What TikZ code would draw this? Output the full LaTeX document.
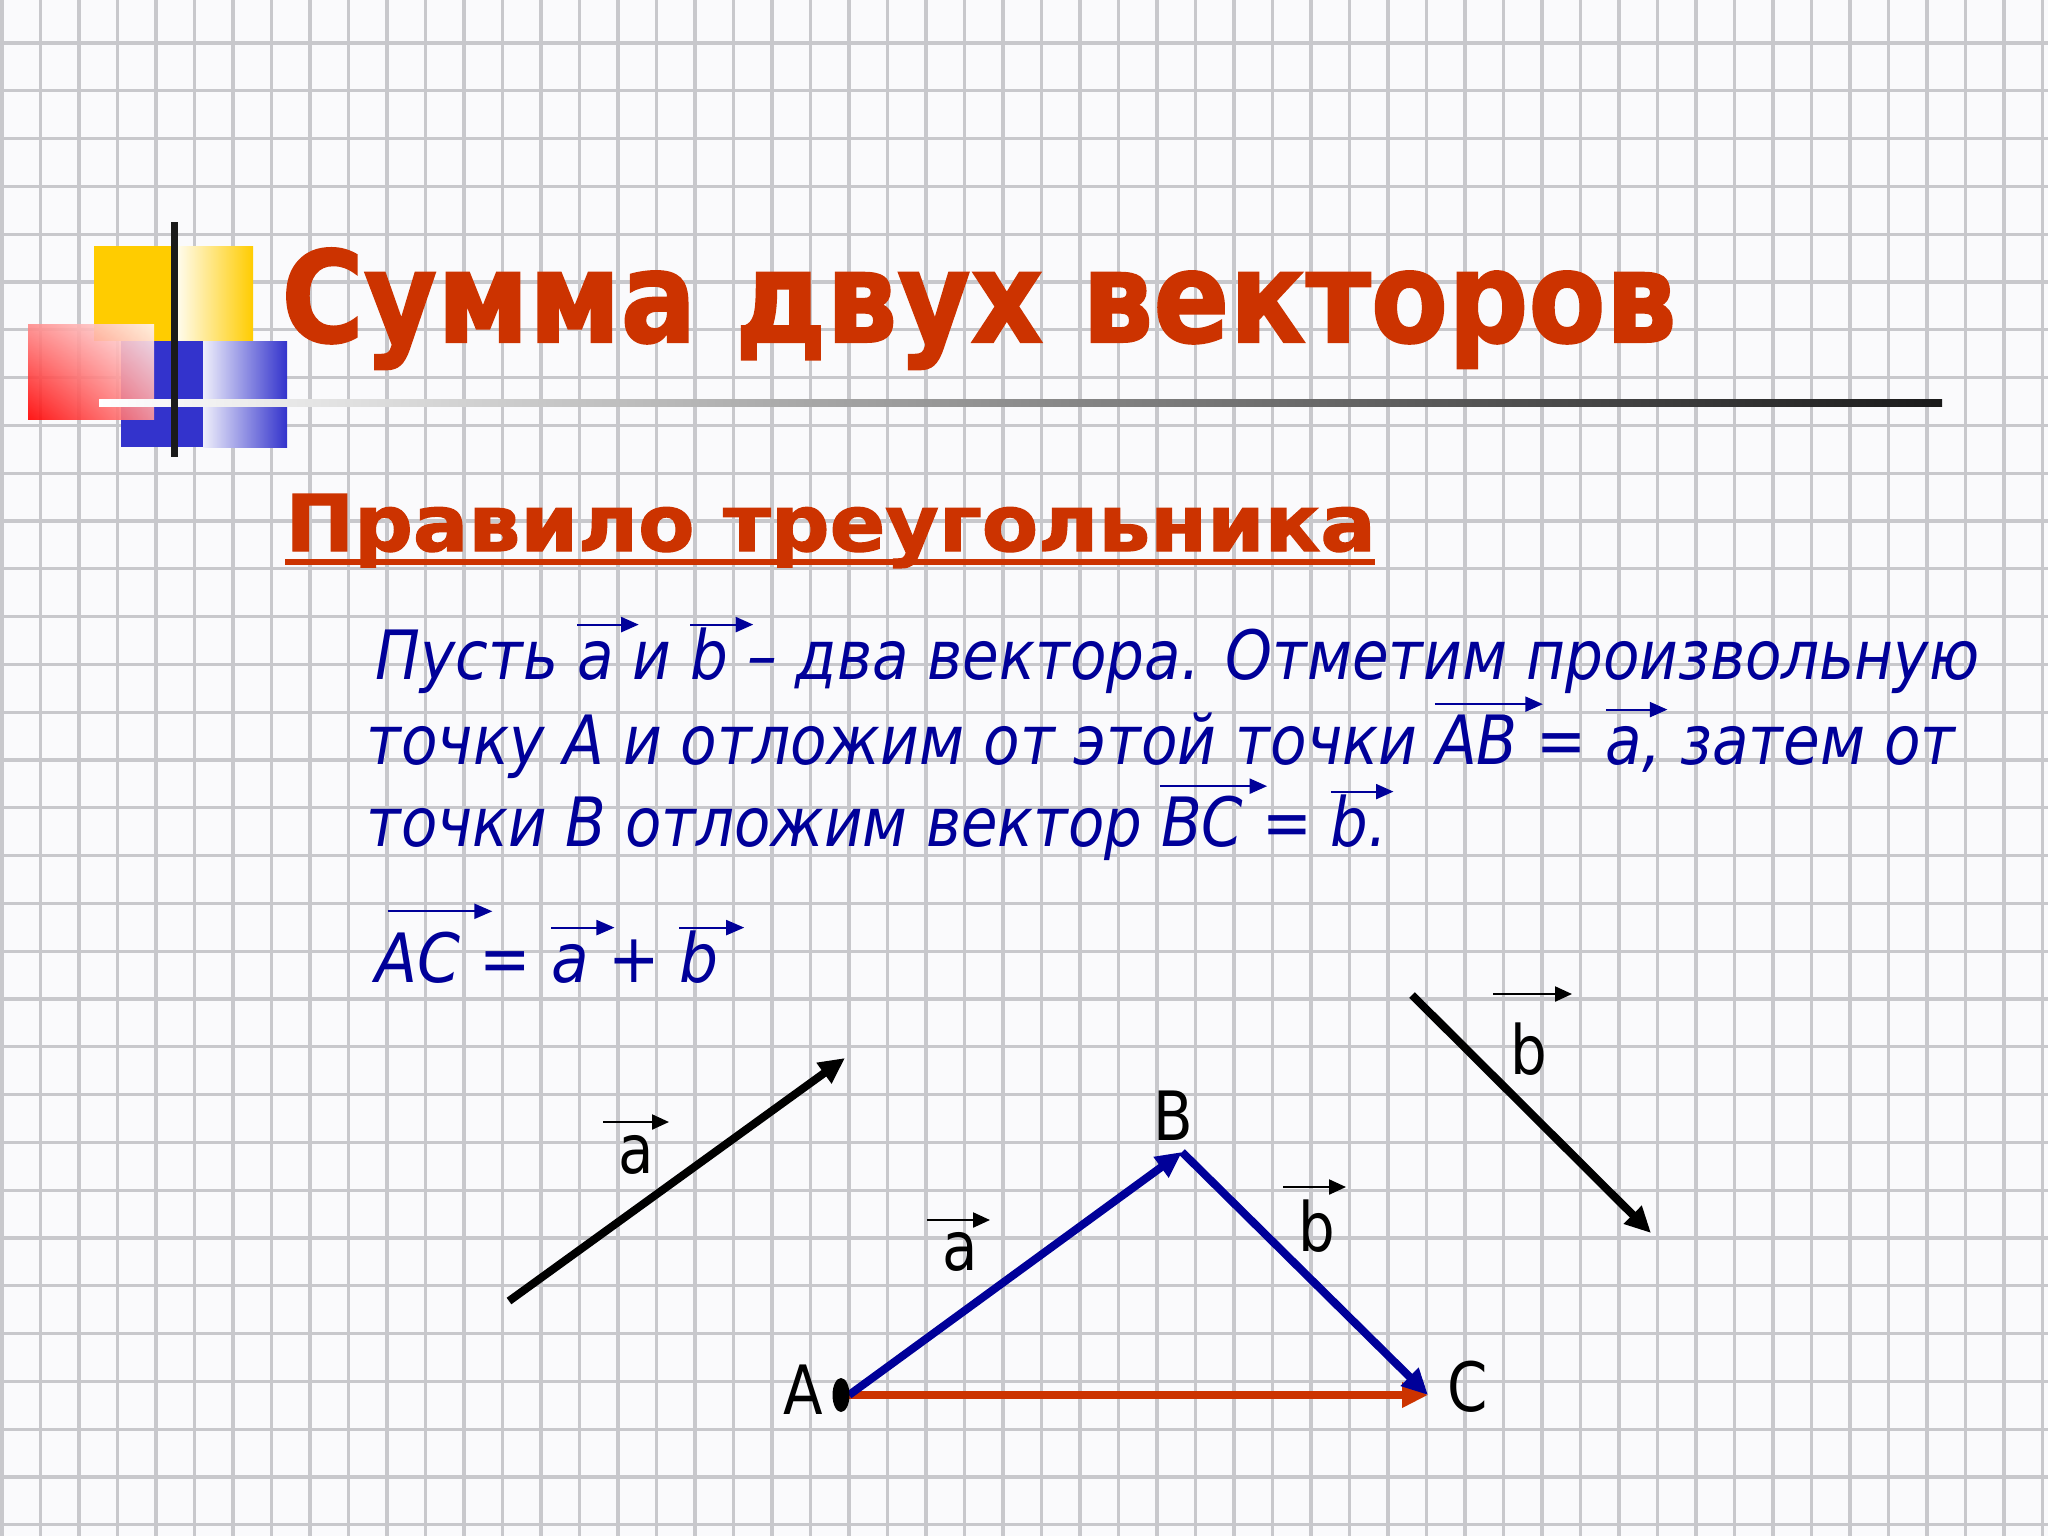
\documentclass[tikz,border=0pt]{standalone}
\usepackage{fontspec}
\usepackage{graphicx}
\usetikzlibrary{arrows.meta,shapes.geometric,shadings}
\newfontfamily\dejavu{DejaVu Sans}
\newfontfamily\titlefont{DejaVu Sans Bold}[FakeBold=1.6]
\definecolor{navy}{RGB}{0,0,153}
\definecolor{titlered}{RGB}{204,51,0}
\definecolor{bgc}{RGB}{250,250,252}
\definecolor{gridc}{RGB}{200,200,204}
\definecolor{yel}{RGB}{255,204,0}
\definecolor{blu}{RGB}{51,51,204}
\definecolor{barc}{RGB}{26,26,26}
\tikzset{
 gridline/.style={draw=gridc, line width=1.6pt},
 vecline/.style={line width=4pt, -{Triangle[length=13pt,width=12pt]}},
 lbl/.style={inner sep=0pt, anchor=base, font=\dejavu\fontsize{34pt}{40pt}\selectfont},
 smallarr/.style={line width=1.1pt, -{Triangle[length=8.5pt,width=7.5pt]}},
 textarr/.style={overlay, navy, line width=1.1pt, -{Triangle[length=10pt,width=7.5pt]}},
 bodyline/.style={inner sep=0pt, anchor=base west, text=navy, font=\dejavu\itshape\fontsize{34pt}{40pt}\selectfont},
 headline/.style={inner sep=0pt, anchor=base west, text=titlered, font=\titlefont},
}
% arrow over lowercase letter
\newcommand\vl[1]{\tikz[baseline=(vt.base)]{\node[inner sep=0pt,outer sep=0pt,anchor=base](vt){#1};\draw[textarr]([xshift=0.0em,yshift=0.8em]vt.base west)--([xshift=0.42em,yshift=0.8em]vt.base east);}}
% arrow over capitals: [height]{start}{end}{text}
\newcommand\vc[4][0.9em]{\tikz[baseline=(vt.base)]{\node[inner sep=0pt,outer sep=0pt,anchor=base](vt){#4};\draw[textarr]([xshift=#2,yshift=#1]vt.base west)--([xshift=#3,yshift=#1]vt.base east);}}
\begin{document}
\begin{tikzpicture}[x=0.5pt,y=-0.5pt]
\useasboundingbox (0,0) rectangle (2048,1536);
\fill[bgc] (0,0) rectangle (2048,1536);
\foreach \i in {0,...,53} \draw[gridline] ({2+38.5*\i},0) -- ({2+38.5*\i},1536);
\foreach \j in {0,...,32} \draw[gridline] (0,{43+47.8*\j}) -- (2048,{43+47.8*\j});
% decoration
\fill[yel] (94,246) rectangle (178,341);
\shade[left color=yel!8, right color=yel] (178,246) rectangle (253,341);
\fill[blu] (121,341) rectangle (203,447);
\shade[left color=blu!8, right color=blu] (203,341) rectangle (287,447);
\shade[upper left=red!45, upper right=red!4, lower left=red, lower right=red!40, opacity=0.9] (28,324) rectangle (154,419);
\shade[left color=white, right color=barc] (99,399) rectangle (1942,406);
\fill[barc] (171,222) rectangle (178,457);
% headings
\node[headline] (title) at (281,342) {\resizebox{697.5pt}{47pt}{Сумма двух векторов}};
\node[headline] (sub) at (285,551) {\resizebox{545pt}{28.5pt}{Правило треугольника}};
\fill[titlered] (285,559) rectangle (1375,565);
% body
\node[bodyline] (l1) at (375,679) {\resizebox{802pt}{\height}{Пусть \vl{a} и \vl{b} – два вектора. Отметим произвольную}};
\node[bodyline] (l2) at (366,764) {\resizebox{794.5pt}{\height}{точку А и отложим от этой точки \vc[0.88em]{-0.02em}{0.42em}{AB} = \vl{a}, затем от}};
\node[bodyline] (l3) at (366,846) {\resizebox{510.5pt}{\height}{точки В отложим вектор \vc[0.88em]{-0.02em}{0.4em}{BC} = \vl{b}.}};
\node[bodyline] (l4) at (375,982) {\resizebox{171.5pt}{\height}{\vc[1.04em]{0.2em}{0.52em}{AC} = \vl{a} + \vl{b}}};
% figure
\coordinate (A) at (849,1395);
\coordinate (B) at (1182,1152);
\coordinate (C) at (1428,1395);
\coordinate (fa1) at (509,1301);
\coordinate (fa2) at (845,1058);
\coordinate (fb1) at (1412,995);
\coordinate (fb2) at (1651,1233);
\draw[vecline, titlered] (A) -- (C);
\draw[vecline, navy] (A) -- (B);
\draw[vecline, navy] (B) -- (C);
\draw[vecline, black] (fa1) -- (fa2);
\draw[vecline, black] (fb1) -- (fb2);
\node[ellipse, fill=black, minimum width=8.5pt, minimum height=17pt, inner sep=0pt] (dotA) at (841,1395) {};
\node[lbl] (lA) at (803,1414) {\scalebox{0.85}[1]{A}};
\node[lbl] (lB) at (1173,1140) {\scalebox{0.85}[1]{B}};
\node[lbl] (lC) at (1468,1411) {\scalebox{0.85}[1]{C}};
\node[lbl] (la) at (636,1173) {\scalebox{0.85}[1]{a}};
\node[lbl] (lab) at (960,1270) {\scalebox{0.85}[1]{a}};
\node[lbl] (lbc) at (1317,1251) {\scalebox{0.85}[1]{b}};
\node[lbl] (lb) at (1529,1074) {\scalebox{0.85}[1]{b}};
\draw[smallarr] ([shift={(-33,-51)}]la.base) -- ([shift={(33,-51)}]la.base);
\draw[smallarr] ([shift={(-33,-50)}]lab.base) -- ([shift={(30,-50)}]lab.base);
\draw[smallarr] ([shift={(-34,-64)}]lbc.base) -- ([shift={(29,-64)}]lbc.base);
\draw[smallarr] ([shift={(-36,-80)}]lb.base) -- ([shift={(43,-80)}]lb.base);
\end{tikzpicture}
\end{document}
